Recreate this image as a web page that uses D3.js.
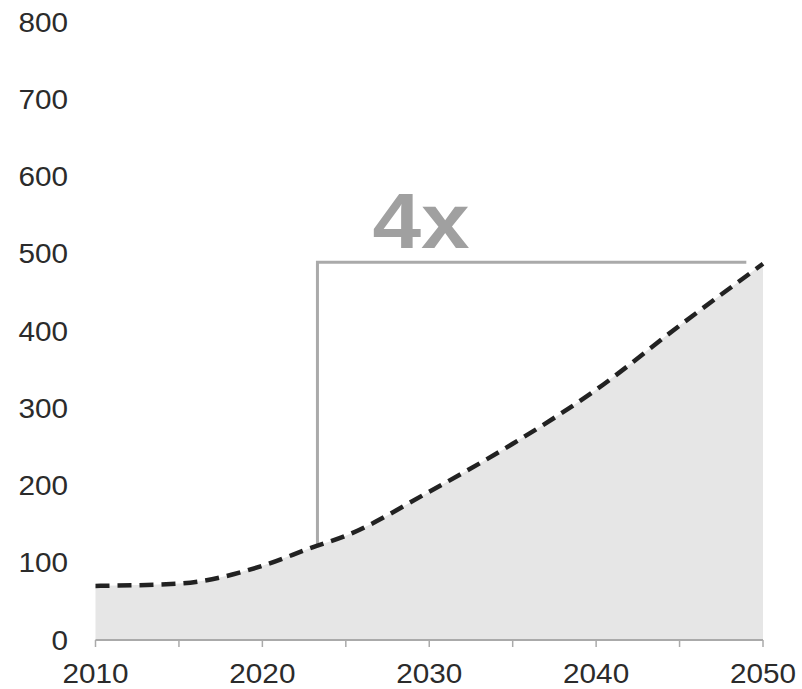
<!DOCTYPE html>
<html><head><meta charset="utf-8">
<script src="https://cdn.jsdelivr.net/npm/d3@7"></script>
<style>body{margin:0;background:#fff}svg{display:block}</style>
</head><body>
<svg id="c" width="802" height="689"></svg>
<script>
const years = [2010, 2015, 2020, 2023, 2025, 2030, 2035, 2040, 2045, 2050];
const values = [70, 73, 96, 120, 135, 192, 254, 324, 407, 487];
const yTicks = [0, 100, 200, 300, 400, 500, 600, 700, 800];
const xTicks = [2010, 2020, 2030, 2040, 2050];
const xMinorTicks = [2010, 2015, 2020, 2025, 2030, 2035, 2040, 2045, 2050];
const bracket = {fromYear: 2023.3, toYear: 2049, fromValue: 124, level: 489, label: "4x"};

const svg = d3.select("#c");
const x = d3.scaleLinear().domain([2010, 2050]).range([95.5, 763]);
const y = d3.scaleLinear().domain([0, 800]).range([640, 22]);
const pts = years.map((yr, i) => ({yr, v: values[i]}));
const curve = d3.curveMonotoneX;

svg.append("path").datum(pts)
  .attr("d", d3.area().x(d => x(d.yr)).y0(y(0)).y1(d => y(d.v)).curve(curve))
  .attr("fill", "#e6e6e6");

// x axis
svg.append("line").attr("x1", x(2010)).attr("x2", x(2050)).attr("y1", y(0)).attr("y2", y(0))
  .attr("stroke", "#aaa").attr("stroke-width", 2);
svg.selectAll(".tk").data(xMinorTicks).join("line")
  .attr("x1", d => x(d)).attr("x2", d => x(d)).attr("y1", y(0)).attr("y2", y(0) + 7)
  .attr("stroke", "#aaa").attr("stroke-width", 1.5);
svg.selectAll(".xl").data(xTicks).join("text")
  .attr("transform", d => `translate(${x(d)},683) scale(1.1,1)`)
  .attr("text-anchor", "middle")
  .attr("font-family", "Liberation Sans, Arial, sans-serif").attr("font-size", 27)
  .attr("fill", "#2b2b2b").text(d => d);

// y labels
svg.selectAll(".yl").data(yTicks).join("text")
  .attr("transform", d => `translate(68,${y(d) + 9.5}) scale(1.1,1)`)
  .attr("text-anchor", "end")
  .attr("font-family", "Liberation Sans, Arial, sans-serif").attr("font-size", 27)
  .attr("fill", "#2b2b2b").text(d => d);

// bracket
svg.append("path")
  .attr("d", `M${x(bracket.fromYear)},${y(bracket.fromValue)}V${y(bracket.level)}H${x(bracket.toYear)}`)
  .attr("fill", "none").attr("stroke", "#aaa").attr("stroke-width", 3);
svg.append("text")
  .attr("transform", `translate(421,248) scale(1.12,1)`)
  .attr("text-anchor", "middle")
  .attr("font-family", "Liberation Sans, Arial, sans-serif").attr("font-weight", "bold").attr("font-size", 78)
  .attr("fill", "#a0a0a0").text(bracket.label);

// dashed line
svg.append("path").datum(pts)
  .attr("d", d3.line().x(d => x(d.yr)).y(d => y(d.v)).curve(curve))
  .attr("fill", "none").attr("stroke", "#222").attr("stroke-width", 4.5)
  .attr("stroke-dasharray", "14,8");
</script>
</body></html>
